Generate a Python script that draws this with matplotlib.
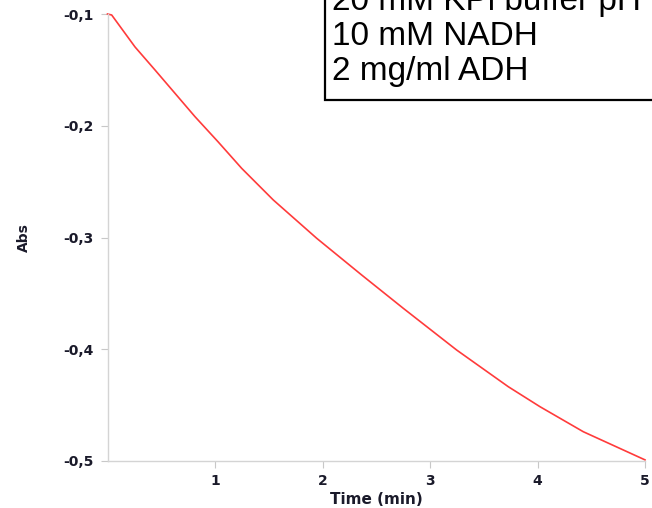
import matplotlib
matplotlib.use('Agg')
import matplotlib.pyplot as plt
from matplotlib.patches import Rectangle

# absorbance trace
time_min = [0.0, 0.039, 0.256, 0.442, 0.628, 0.814, 1.028, 1.248, 1.542, 1.946,
            2.365, 2.752, 3.248, 3.728, 4.023, 4.426, 5.0]
abs_val = [-0.100, -0.1009, -0.1295, -0.1501, -0.1710, -0.1919, -0.2143, -0.2381,
           -0.2664, -0.3007, -0.3336, -0.3634, -0.4007, -0.4335, -0.4514, -0.4738,
           -0.499]

xticks = [1, 2, 3, 4, 5]
yticks = [-0.5, -0.4, -0.3, -0.2, -0.1]
ytick_labels = ['-0,5', '-0,4', '-0,3', '-0,2', '-0,1']

legend_lines = ['20 mM KPi buffer pH', '10 mM NADH', '2 mg/ml ADH']

W, H = 652, 508
fig = plt.figure(figsize=(W / 100, H / 100), dpi=100)
ax = fig.add_axes([107.5 / W, 1 - 461 / H, (645 - 107.5) / W, (461 - 14) / H])

ax.plot(time_min, abs_val, color='#ff3b3b', lw=1.2, clip_on=False,
        solid_joinstyle='round')

ax.set_xlim(0, 5)
ax.set_ylim(-0.5, -0.1)
ax.set_xticks(xticks)
ax.set_xticklabels([str(t) for t in xticks])
ax.set_yticks(yticks)
ax.set_yticklabels(ytick_labels)

for s in ['top', 'right']:
    ax.spines[s].set_visible(False)
for s in ['left', 'bottom']:
    ax.spines[s].set_color('#d4d4d4')
    ax.spines[s].set_linewidth(1.0)
ax.tick_params(colors='#c8c8c8', length=5, width=0.8, labelcolor='#1a1a2a')
ax.tick_params(axis='y', pad=5)
ax.tick_params(axis='x', pad=4.5)
for lab in ax.get_xticklabels() + ax.get_yticklabels():
    lab.set_family('DejaVu Sans')
    lab.set_fontweight('bold')
    lab.set_fontsize(10)

ax.set_xlabel('Time (min)', fontsize=11, fontweight='bold', color='#1a1a2a',
              family='DejaVu Sans')
ax.set_ylabel('Abs', fontsize=10, fontweight='bold', color='#1a1a2a',
              family='DejaVu Sans')
ax.xaxis.set_label_coords(0.5, (461 - 499) / 447)
ax.xaxis.label.set_va('center')
ax.yaxis.set_label_coords((24 - 107.5) / 537.5, 0.5)
ax.yaxis.label.set_va('center')

# text box in the upper right, running off the figure
fig.patches.append(Rectangle((325 / W, 1 - 100 / H), 400 / W, 200 / H,
                             transform=fig.transFigure, facecolor='white',
                             edgecolor='black', lw=1.6, zorder=5))
for i, line in enumerate(legend_lines):
    base = 10 + 35 * i
    fig.text(332 / W, 1 - base / H, line, fontsize=24, color='black',
             family=['Liberation Sans', 'DejaVu Sans'],
             va='baseline', ha='left', zorder=6)

fig.savefig('out.png', dpi=100)
